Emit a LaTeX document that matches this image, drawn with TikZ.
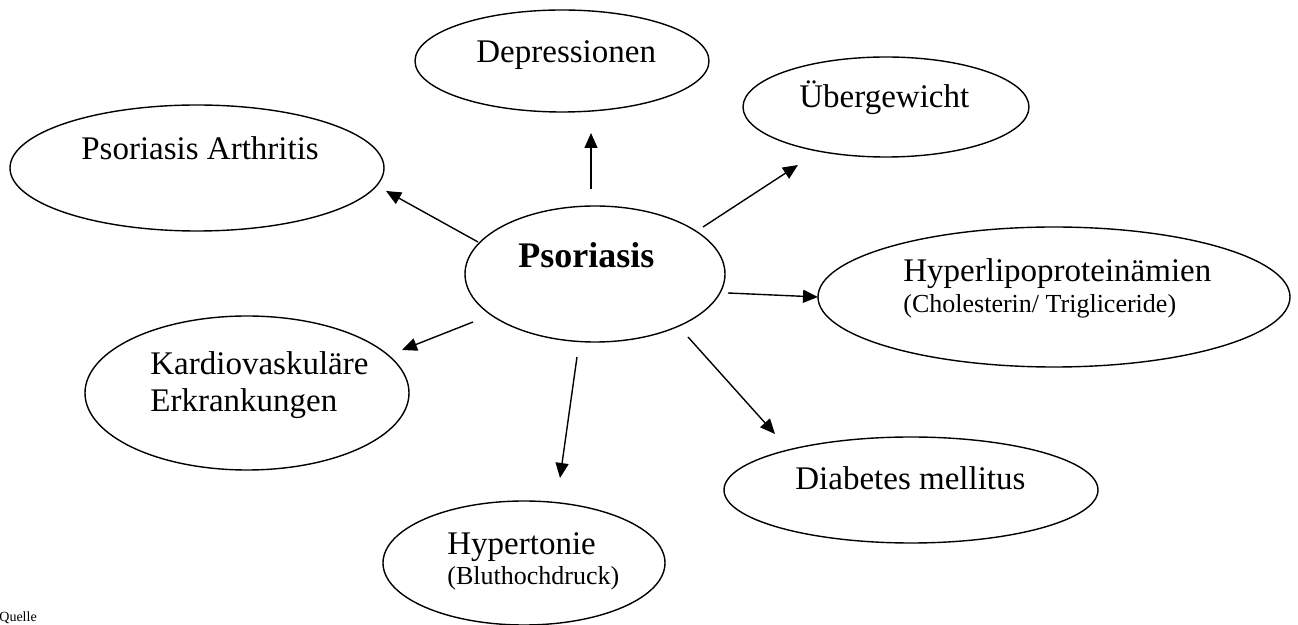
\documentclass[tikz,border=0pt]{standalone}
\usepackage{fontspec}
\setmainfont{Liberation Serif}
\usetikzlibrary{shapes.geometric,arrows.meta}
\tikzset{
  bubble/.style={draw=black,line width=0.7pt,ellipse,inner sep=0pt},
  lbl/.style={anchor=base west,inner sep=0pt,font=\fontsize{16.5}{19}\selectfont},
  small/.style={anchor=base west,inner sep=0pt,font=\fontsize{13}{15}\selectfont},
  link/.style={line width=0.7pt,-{Triangle[length=7.5pt,width=6.5pt]}}
}
\begin{document}
\begin{tikzpicture}[x=0.5pt,y=-0.5pt]
\useasboundingbox (0,0) rectangle (1298,625);
% ellipses (sizes in pt = px/2)
\node[bubble,minimum width=147pt,minimum height=51pt] (dep) at (562,61) {};
\node[bubble,minimum width=143pt,minimum height=50pt] (ueb) at (886,107) {};
\node[bubble,minimum width=187pt,minimum height=63pt] (arth) at (197,168) {};
\node[bubble,minimum width=130pt,minimum height=68pt] (ps) at (595,274) {};
\node[bubble,minimum width=236pt,minimum height=70pt] (hyp) at (1054,297) {};
\node[bubble,minimum width=162pt,minimum height=77pt] (kard) at (247,393) {};
\node[bubble,minimum width=187pt,minimum height=53pt] (dia) at (911,490) {};
\node[bubble,minimum width=141pt,minimum height=62pt] (ton) at (524,563) {};
% texts
\node[lbl] (tdep) at (476,63) {Depressionen};
\node[lbl] (tueb) at (799,108) {Übergewicht};
\node[lbl] (tarth) at (81,160) {Psoriasis Arthritis};
\node[anchor=base west,inner sep=0pt,font=\fontsize{18}{21}\selectfont\bfseries] (tps) at (518,268) {Psoriasis};
\node[lbl] (thyp) at (903,282) {Hyperlipoproteinämien};
\node[small] (thyp2) at (903,313) {(Cholesterin/ Trigliceride)};
\node[lbl] (tkard) at (150,375) {Kardiovaskuläre};
\node[lbl] (tkard2) at (150,412) {Erkrankungen};
\node[lbl] (tdia) at (795,490) {Diabetes mellitus};
\node[lbl] (tton) at (447,555) {Hypertonie};
\node[small] (tton2) at (447,585) {(Bluthochdruck)};
\node[anchor=base west,inner sep=0pt,font=\fontsize{7}{8}\selectfont] (quelle) at (-1,622) {Quelle};
% arrow end points
\coordinate (a1s) at (591,189); \coordinate (a1e) at (591,133);
\coordinate (a2s) at (703,227); \coordinate (a2e) at (798,165);
\coordinate (a3s) at (478,242); \coordinate (a3e) at (386,191);
\coordinate (a4s) at (728,293); \coordinate (a4e) at (818,297);
\coordinate (a5s) at (473,322); \coordinate (a5e) at (402,350);
\coordinate (a6s) at (577,357); \coordinate (a6e) at (560,478);
\coordinate (a7s) at (688,337); \coordinate (a7e) at (775,434);
\draw[link] (a1s) -- (a1e);
\draw[link] (a2s) -- (a2e);
\draw[link] (a3s) -- (a3e);
\draw[link] (a4s) -- (a4e);
\draw[link] (a5s) -- (a5e);
\draw[link] (a6s) -- (a6e);
\draw[link] (a7s) -- (a7e);
\end{tikzpicture}
\end{document}
